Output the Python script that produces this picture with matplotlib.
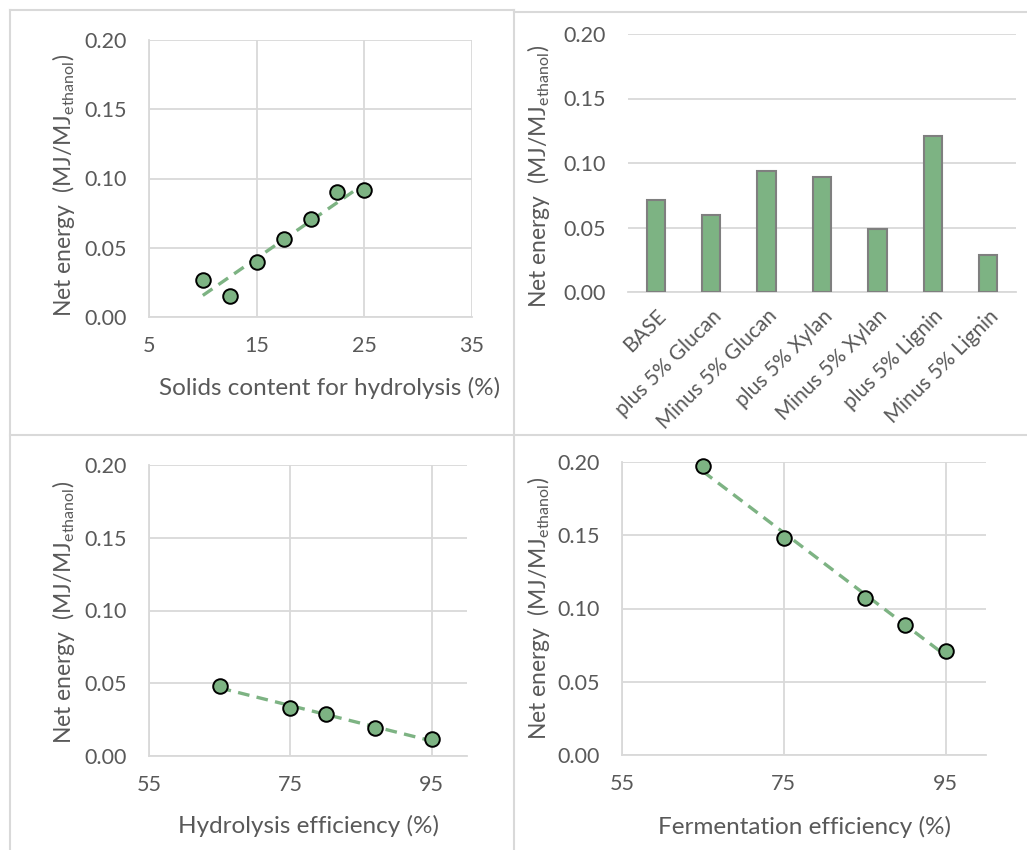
import numpy as np
import matplotlib
matplotlib.use("Agg")
import matplotlib.pyplot as plt
from matplotlib.lines import Line2D

plt.rcParams["font.family"] = ["Lato", "DejaVu Sans"]
plt.rcParams["mathtext.default"] = "regular"

# ---- data ----
solids_pct = [10, 12.5, 15, 17.5, 20, 22.5, 25]
solids_energy = [0.027, 0.015, 0.040, 0.056, 0.071, 0.090, 0.092]

composition_cases = ["BASE", "plus 5% Glucan", "Minus 5% Glucan", "plus 5% Xylan",
                     "Minus 5% Xylan", "plus 5% Lignin", "Minus 5% Lignin"]
composition_energy = [0.071, 0.060, 0.094, 0.089, 0.049, 0.121, 0.029]

hydrolysis_eff = [65, 75, 80, 87, 95]
hydrolysis_energy = [0.048, 0.033, 0.029, 0.019, 0.0115]

fermentation_eff = [65, 75, 85, 90, 95]
fermentation_energy = [0.197, 0.148, 0.107, 0.089, 0.071]

y_ticks = [0.00, 0.05, 0.10, 0.15, 0.20]
ylabel = "Net energy  (MJ/MJ$_{ethanol}$)"

# ---- style ----
GREEN = "#7DB383"
GRID = "#D9D9D9"
TEXT = "#595959"
FS = 15.5
FS_TITLE = 17.5

W, H = 1027, 850
fig = plt.figure(figsize=(W / 100, H / 100), dpi=100)


def px_axes(left, top, right, bottom):
    return fig.add_axes([left / W, 1 - bottom / H, (right - left) / W, (bottom - top) / H])


def style_axes(ax, vgrid=True):
    ax.set_ylim(0, 0.2)
    ax.set_yticks(y_ticks)
    ax.set_yticklabels([f"{v:.2f}" for v in y_ticks])
    ax.grid(True, axis="y", color=GRID, lw=1.3)
    if vgrid:
        ax.grid(True, axis="x", color=GRID, lw=1.3)
    ax.set_axisbelow(True)
    for s in ["top", "right"]:
        ax.spines[s].set_visible(False)
    for s in ["left", "bottom"]:
        ax.spines[s].set_color(GRID)
        ax.spines[s].set_linewidth(1.3)
    ax.tick_params(length=0, labelsize=FS, colors=TEXT)
    ax.tick_params(axis="y", pad=16)
    ax.tick_params(axis="x", pad=14)


def scatter_trend(ax, x, y):
    x = np.asarray(x, float)
    y = np.asarray(y, float)
    k, b = np.polyfit(x, y, 1)
    xs = np.array([x.min(), x.max()])
    ax.plot(xs, k * xs + b, ls=(0, (3.5, 2.2)), color=GREEN, lw=2.4, zorder=2)
    ax.plot(x, y, ls="none", marker="o", ms=10.5, mfc=GREEN, mec="black",
            mew=1.4, zorder=3, clip_on=False)


# Panel 1: solids content
ax1 = px_axes(149, 40, 472, 317)
style_axes(ax1)
ax1.set_xlim(5, 35)
ax1.set_xticks([5, 15, 25, 35])
scatter_trend(ax1, solids_pct, solids_energy)

# Panel 2: feedstock composition
ax2 = px_axes(628, 34, 1016, 292)
style_axes(ax2, vgrid=False)
ax2.spines["left"].set_visible(False)
xpos = np.arange(len(composition_cases))
ax2.bar(xpos, composition_energy, width=0.33, color=GREEN, edgecolor="#7F7F7F",
        linewidth=1.5, zorder=3)
ax2.set_xlim(-0.5, len(composition_cases) - 0.5)
ax2.set_xticks(xpos)
ax2.set_xticklabels(composition_cases, rotation=45, ha="right", va="top",
                    rotation_mode="anchor", fontsize=FS - 0.5)
ax2.tick_params(axis="x", pad=10)

# Panel 3: hydrolysis efficiency
ax3 = px_axes(149, 465, 467, 756)
style_axes(ax3)
ax3.set_xlim(55, 100)
ax3.set_xticks([55, 75, 95])
scatter_trend(ax3, hydrolysis_eff, hydrolysis_energy)

# Panel 4: fermentation efficiency
ax4 = px_axes(622, 462, 986, 755)
style_axes(ax4)
ax4.set_xlim(55, 100)
ax4.set_xticks([55, 75, 95])
scatter_trend(ax4, fermentation_eff, fermentation_energy)

# axis titles
for (cx, cy) in [(64, 185), (539, 176), (64, 612), (539, 608)]:
    fig.text(cx / W, 1 - cy / H, ylabel, rotation=90, ha="center", va="center",
             fontsize=FS_TITLE - 1, color=TEXT)
for (cx, cy, s) in [(330, 388, "Solids content for hydrolysis (%)"),
                    (308, 826, "Hydrolysis efficiency (%)"),
                    (804, 827, "Fermentation efficiency (%)")]:
    fig.text(cx / W, 1 - cy / H, s, ha="center", va="center", fontsize=FS_TITLE,
             color=TEXT)

# chart frames
frame = dict(color="#D9D9D9", lw=1.5, transform=fig.transFigure)
for (x0, y0, x1, y1) in [(10, 10, 10, 850), (10, 10, 514, 10), (514, 12, 1027, 12),
                         (514, 10, 514, 850), (10, 435, 1027, 435)]:
    fig.add_artist(Line2D([x0 / W, x1 / W], [1 - y0 / H, 1 - y1 / H], **frame))

fig.savefig("out.png", dpi=100, facecolor="white")
